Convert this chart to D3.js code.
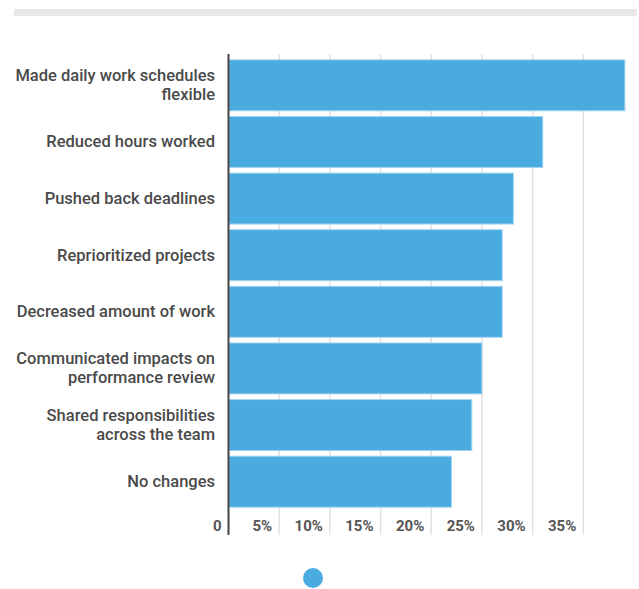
<!DOCTYPE html>
<html>
<head>
<meta charset="utf-8">
<script src="https://cdn.jsdelivr.net/npm/d3@7"></script>
<style>
  body { margin: 0; background: #fff; font-family: Roboto, "Noto Sans", sans-serif; }
</style>
</head>
<body>
<svg id="chart"></svg>
<script>
var width = 639;
var height = 589;

var categories = [
  "Made daily work schedules|flexible",
  "Reduced hours worked",
  "Pushed back deadlines",
  "Reprioritized projects",
  "Decreased amount of work",
  "Communicated impacts on|performance review",
  "Shared responsibilities|across the team",
  "No changes"
];
var values = [39.1, 31.0, 28.1, 27.0, 27.0, 25.0, 24.0, 22.0];
var tickValues = [0, 5, 10, 15, 20, 25, 30, 35];

var blue = "#49abe0";

var svg = d3.select("#chart")
  .attr("width", width)
  .attr("height", height);

// grey strip at the top
svg.append("rect")
  .attr("x", 14).attr("y", 9)
  .attr("width", 623).attr("height", 7)
  .attr("fill", "#e8e8e8");

var xScale = d3.scaleLinear().domain([0, 40]).range([228.5, 634]);
var yScale = d3.scaleBand()
  .domain(d3.range(categories.length))
  .range([57, 510])
  .paddingInner(0.1)
  .paddingOuter(0.05);

var axisTop = 54, axisBottom = 535;

// grid lines
svg.append("g")
  .selectAll("line")
  .data(tickValues.slice(1))
  .enter()
  .append("line")
  .attr("x1", function(d) { return xScale(d); })
  .attr("x2", function(d) { return xScale(d); })
  .attr("y1", axisTop)
  .attr("y2", axisBottom)
  .attr("stroke", "#e2e2e2")
  .attr("stroke-width", 1.5);

// bars
svg.append("g")
  .selectAll("rect")
  .data(values)
  .enter()
  .append("rect")
  .attr("class", "bar")
  .attr("x", xScale(0) + 0.5)
  .attr("y", function(d, i) { return yScale(i); })
  .attr("width", function(d) { return xScale(d) - xScale(0) - 0.5; })
  .attr("height", yScale.bandwidth())
  .attr("fill", blue)
  .attr("stroke", "#a5d3ef")
  .attr("stroke-width", 1);

// category labels
var labels = svg.append("g")
  .selectAll("text")
  .data(categories)
  .enter()
  .append("text")
  .attr("text-anchor", "end")
  .attr("font-size", "16.5px")
  .attr("font-weight", 500)
  .attr("fill", "#4a4a4a")
  .attr("transform", function(d, i) {
    var lines = d.split("|").length;
    var cy = yScale(i) + yScale.bandwidth() / 2 + 5.5 - (lines - 1) * 9.5;
    return "translate(215," + cy + ")";
  });

labels.selectAll("tspan")
  .data(function(d) { return d.split("|"); })
  .enter()
  .append("tspan")
  .attr("x", 0)
  .attr("dy", function(d, i) { return i === 0 ? 0 : 19; })
  .text(function(d) { return d; });

// x tick labels
svg.append("g")
  .selectAll("text")
  .data(tickValues)
  .enter()
  .append("text")
  .attr("x", function(d) { return xScale(d) - 7; })
  .attr("y", 530.5)
  .attr("text-anchor", "end")
  .attr("font-size", "15px")
  .attr("font-weight", 700)
  .attr("fill", "#555")
  .text(function(d) { return d === 0 ? "0" : d + "%"; });

// axis line
svg.append("line")
  .attr("x1", xScale(0)).attr("x2", xScale(0))
  .attr("y1", axisTop).attr("y2", axisBottom)
  .attr("stroke", "#444")
  .attr("stroke-width", 2);

// legend dot
svg.append("circle")
  .attr("cx", 313).attr("cy", 578)
  .attr("r", 10)
  .attr("fill", blue);
</script>
</body>
</html>
